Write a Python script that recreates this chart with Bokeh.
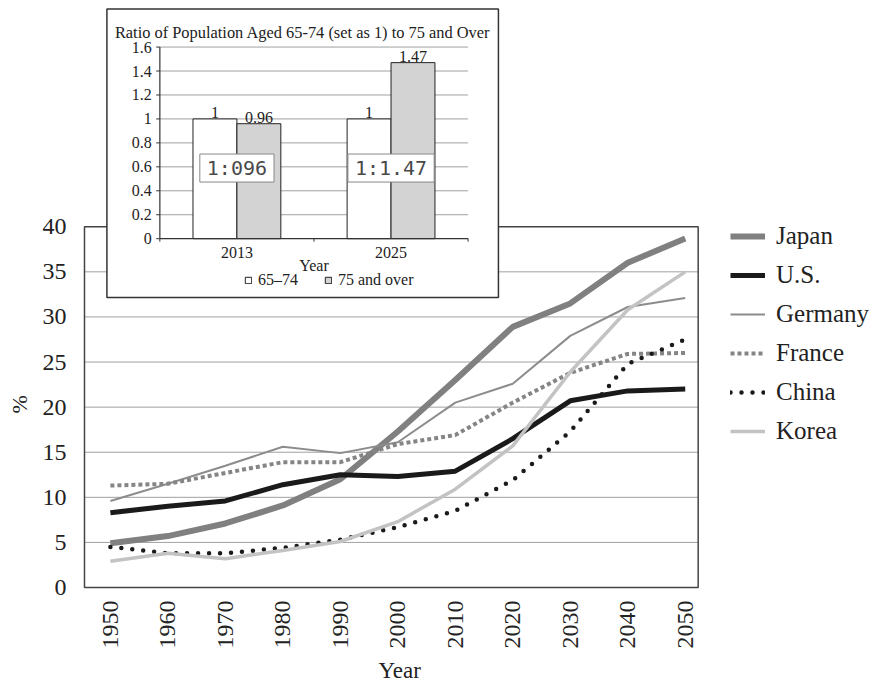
import math
from bokeh.plotting import figure
from bokeh.models import Range1d, FixedTicker, Legend, LegendItem, Label, Title
from bokeh.core.properties import value
from bokeh.embed import file_html
from bokeh.resources import INLINE

# ---------------- data ----------------
YEARS = [1950, 1960, 1970, 1980, 1990, 2000, 2010, 2020, 2030, 2040, 2050]
JAPAN = [4.9, 5.7, 7.1, 9.1, 12.0, 17.3, 23.0, 28.9, 31.5, 36.0, 38.7]
US = [8.3, 9.0, 9.6, 11.4, 12.5, 12.3, 12.9, 16.5, 20.7, 21.8, 22.0]
GERMANY = [9.6, 11.5, 13.5, 15.6, 14.9, 16.1, 20.5, 22.6, 27.9, 31.1, 32.1]
FRANCE = [11.3, 11.5, 12.7, 13.9, 13.9, 15.9, 16.9, 20.5, 23.8, 25.9, 26.0]
CHINA = [4.5, 3.8, 3.8, 4.4, 5.3, 6.7, 8.5, 11.9, 17.3, 24.8, 27.5]
KOREA = [2.9, 3.8, 3.2, 4.1, 5.1, 7.3, 10.9, 15.7, 23.9, 30.8, 35.0]
Y_TICKS = [0, 5, 10, 15, 20, 25, 30, 35, 40]

INSET_TITLE = "Ratio of Population Aged 65-74 (set as 1) to 75 and Over"
INSET_YEARS = ["2013", "2025"]
AGE_65_74 = [1, 1]
AGE_75_OVER = [0.96, 1.47]
RATIO_TEXT = ["1:096", "1:1.47"]
INSET_Y_TICKS = [0, 0.2, 0.4, 0.6, 0.8, 1.0, 1.2, 1.4, 1.6]

SERIF = "Liberation Serif"
INK = "#222222"

# ---------------- geometry helpers (page pixels -> data) ----------------
def lin(px, p1, v1, p2, v2):
    return v1 + (px - p1) * (v2 - v1) / (p2 - p1)

W, H = 877, 687
FL, FR, FT, FB = 79, W, 5, 592          # frame edges on the page
mx = lambda px: lin(px, 107, 1950, 684, 2050)
my = lambda py: lin(py, 589, 0, 227, 40)
ix = lambda px: lin(px, 234, 0, 388.7, 1)
iy = lambda py: lin(py, 239, 0, 46.7, 1.6)

p = figure(width=W, height=H, output_backend="svg", toolbar_location=None,
           x_range=Range1d(mx(FL), mx(FR)), y_range=Range1d(my(FB), my(FT)),
           min_border_left=FL, min_border_right=W - FR, min_border_top=FT,
           min_border_bottom=H - FB)
p.extra_x_ranges = {"ix": Range1d(ix(FL), ix(FR))}
p.extra_y_ranges = {"iy": Range1d(iy(FB), iy(FT))}
p.outline_line_color = None
p.xgrid.visible = False
p.ygrid.visible = False
p.background_fill_color = "white"
p.border_fill_color = "white"

# axes
p.yaxis.ticker = FixedTicker(ticks=Y_TICKS)
p.xaxis.ticker = FixedTicker(ticks=YEARS)
for ax in (p.xaxis[0], p.yaxis[0]):
    ax.axis_line_color = None
    ax.major_tick_line_color = None
    ax.minor_tick_line_color = None
    ax.major_tick_out = 0
    ax.major_tick_in = 0
    ax.minor_tick_out = 0
    ax.major_label_text_font = SERIF
    ax.major_label_text_font_size = "24px"
    ax.major_label_text_color = INK
p.yaxis.major_label_standoff = 16
p.xaxis.major_label_standoff = 10
p.xaxis.major_label_orientation = math.pi / 2

# axis titles (placed in the side panels)
p.add_layout(Title(text="%", align="left", vertical_align="top", offset=FB - 415,
                   standoff=12, text_font=SERIF, text_font_size="22px",
                   text_font_style="normal", text_color=INK), "left")
p.add_layout(Title(text="Year", align="left", vertical_align="bottom", offset=375 - FL,
                   standoff=9, text_font=SERIF, text_font_size="23px",
                   text_font_style="normal", text_color=INK), "below")

# main grid and box
box_l, box_r = mx(81), mx(697)
p.segment(x0=[box_l] * (len(Y_TICKS) - 2), x1=[box_r] * (len(Y_TICKS) - 2),
          y0=Y_TICKS[1:-1], y1=Y_TICKS[1:-1], line_color="#a0a0a0", line_width=1)
p.quad(left=[box_l], right=[box_r], bottom=[Y_TICKS[0]], top=[Y_TICKS[-1]],
       fill_color=None, line_color="#444444", line_width=1.5)

# main lines
r_japan = p.line(YEARS, JAPAN, line_color="#808080", line_width=6)
r_us = p.line(YEARS, US, line_color="#1a1a1a", line_width=5)
r_ger = p.line(YEARS, GERMANY, line_color="#8c8c8c", line_width=2)
r_fra = p.line(YEARS, FRANCE, line_color="#858585", line_width=4, line_dash="4 3")
r_chn = p.line(YEARS, CHINA, line_color="#1a1a1a", line_width=4.5, line_dash="0 11",
               line_cap="round")
r_kor = p.line(YEARS, KOREA, line_color="#c3c3c3", line_width=3.5)

legend = Legend(items=[LegendItem(label="Japan", renderers=[r_japan]),
                       LegendItem(label="U.S.", renderers=[r_us]),
                       LegendItem(label="Germany", renderers=[r_ger]),
                       LegendItem(label="France", renderers=[r_fra]),
                       LegendItem(label="China", renderers=[r_chn]),
                       LegendItem(label="Korea", renderers=[r_kor])],
                location=(727 - FL, FB - 448), orientation="vertical",
                glyph_width=35, glyph_height=20, label_height=30, spacing=9,
                padding=0, margin=0, label_standoff=11,
                border_line_color=None, background_fill_alpha=0,
                label_text_font=SERIF, label_text_font_size="25px",
                label_text_color=INK)
p.add_layout(legend)

# ---------------- inset ----------------
R = dict(x_range_name="ix", y_range_name="iy")
FS = "16px"
p.quad(left=[ix(103.5)], right=[ix(496.5)], top=[iy(8.5)], bottom=[iy(298)],
       fill_color="white", line_color="#333333", line_width=1.5, **R)
ax_l, ax_r = -0.5, len(INSET_YEARS) - 0.5
gy = INSET_Y_TICKS[1:]
p.segment(x0=[ax_l] * len(gy), x1=[ax_r] * len(gy), y0=gy, y1=gy,
          line_color="#a0a0a0", line_width=1, **R)
bw = 0.285
xs = list(range(len(INSET_YEARS)))
r_white = p.vbar(x=[x - bw / 2 for x in xs], top=AGE_65_74, bottom=0, width=bw,
                 fill_color="white", line_color="#222222", line_width=1, **R)
r_gray = p.vbar(x=[x + bw / 2 for x in xs], top=AGE_75_OVER, bottom=0, width=bw,
                fill_color="#d3d3d3", line_color="#222222", line_width=1, **R)
# inset axes
tick_w = ix(156.7) - ix(153)
tick_h = iy(239) - iy(242)
p.segment(x0=[ax_l, ax_l], x1=[ax_l, ax_r], y0=[0, 0], y1=[INSET_Y_TICKS[-1], 0],
          line_color="#333333", line_width=1.2, **R)
p.segment(x0=[ax_l - tick_w] * len(INSET_Y_TICKS), x1=[ax_l] * len(INSET_Y_TICKS),
          y0=INSET_Y_TICKS, y1=INSET_Y_TICKS, line_color="#333333", line_width=1, **R)
xt = [ax_l + i for i in range(len(INSET_YEARS) + 1)]
p.segment(x0=xt, x1=xt, y0=[0] * len(xt), y1=[-tick_h] * len(xt),
          line_color="#333333", line_width=1, **R)
p.text(x=[ax_l] * len(INSET_Y_TICKS), y=INSET_Y_TICKS,
       text=[f"{v:g}" for v in INSET_Y_TICKS], x_offset=-8, text_align="right",
       text_baseline="middle", text_font=value(SERIF), text_font_size=FS,
       text_color=INK, **R)
p.text(x=xs, y=[0] * len(xs), text=INSET_YEARS, y_offset=14, text_align="center",
       text_baseline="middle", text_font=value(SERIF), text_font_size=FS,
       text_color=INK, **R)
p.text(x=[(ax_l + ax_r) / 2], y=[0], text=["Year"], y_offset=27, text_align="center",
       text_baseline="middle", text_font=value(SERIF), text_font_size=FS,
       text_color=INK, **R)
p.text(x=[ix(300)], y=[iy(32)], text=[INSET_TITLE], text_align="center",
       text_baseline="alphabetic", text_font=value(SERIF), text_font_size="16.4px",
       text_color=INK, **R)
# value labels
p.text(x=[x - bw / 2 for x in xs] + [x + bw / 2 for x in xs],
       y=AGE_65_74 + AGE_75_OVER,
       text=[f"{v:g}" for v in AGE_65_74 + AGE_75_OVER], y_offset=-6,
       text_align="center", text_baseline="alphabetic", text_font=value(SERIF),
       text_font_size=FS, text_color=INK, **R)
for i, t in enumerate(RATIO_TEXT):
    p.add_layout(Label(x=xs[i], y=0.59, text=t, text_align="center",
                       text_baseline="middle", text_font="DejaVu Sans Mono",
                       text_font_size="20px", text_color="#4a4a4a",
                       border_line_color="#888888", background_fill_color="white",
                       padding=dict(left=7, right=7, top=2, bottom=2), **R))

inset_legend = Legend(items=[LegendItem(label="65\u201374", renderers=[r_white]),
                             LegendItem(label="75 and over", renderers=[r_gray])],
                      location=(241 - FL, FB - 291), orientation="horizontal",
                      glyph_width=8, glyph_height=8, label_height=16, spacing=26,
                      padding=0, margin=0, label_standoff=6,
                      border_line_color=None, background_fill_alpha=0,
                      label_text_font=SERIF, label_text_font_size=FS,
                      label_text_color=INK)
p.add_layout(inset_legend)

open("out.html", "w").write(file_html(p, INLINE))
